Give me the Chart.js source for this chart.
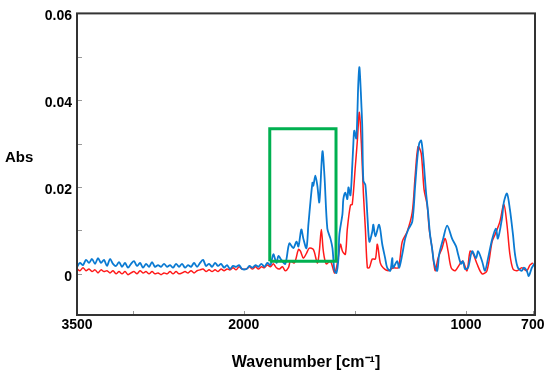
<!DOCTYPE html>
<html>
<head>
<meta charset="utf-8">
<title>FTIR spectra</title>
<script src="https://cdn.jsdelivr.net/npm/chart.js@4.4.1/dist/chart.umd.min.js"></script>
<style>
    html, body { margin: 0; padding: 0; background: #ffffff; }
    #spectrum { display: block; }
</style>
</head>
<body>
<canvas id="spectrum" width="550" height="375"></canvas>
<script>
/**
 * FTIR absorbance spectra - two samples, split wavenumber axis
 */

// Axis ticks (blank label = tick mark only)
const xTickValues = [3500, 3000, 2000, 1500, 1000, 700];
const xTickLabels = ['3500', '', '2000', '', '1000', '700'];
const yTickValues = [0, 0.01, 0.02, 0.03, 0.04, 0.05, 0.06];
const yTickLabels = ['0', '', '0.02', '', '0.04', '', '0.06'];

// Red trace
const redWavenumber = [
    3500, 3473, 3446, 3419, 3392, 3365, 3338, 3311, 3284, 3257,
    3230, 3203, 3176, 3149, 3122, 3095, 3068, 3041, 3014, 2987,
    2960, 2933, 2906, 2879, 2852, 2825, 2798, 2771, 2744, 2717,
    2690, 2663, 2636, 2609, 2582, 2555, 2528, 2501, 2474, 2447,
    2420, 2393, 2366, 2339, 2312, 2285, 2258, 2231, 2204, 2177,
    2150, 2123, 2096, 2069, 2042, 2015,
    1988, 1974, 1961, 1947, 1934, 1921, 1907, 1894, 1880, 1867,
    1853, 1840, 1826, 1813, 1799, 1790, 1772, 1754, 1745, 1732,
    1718, 1705, 1687, 1669, 1660, 1651, 1642, 1629, 1610, 1592,
    1583, 1574, 1565, 1556, 1543, 1534, 1520, 1512, 1498, 1489,
    1480, 1471, 1462, 1453, 1444, 1435, 1422, 1408, 1399, 1386,
    1373, 1350, 1328, 1305, 1287, 1265, 1242, 1229, 1216, 1202,
    1189, 1175, 1166, 1153, 1139, 1126, 1108, 1094, 1081, 1067,
    1049, 1027, 1014, 996, 982, 969, 951, 928, 906, 883,
    870, 848, 830, 816, 803, 789, 771, 749, 727, 713,
    700
];
const redAbs = [
    0.0011, 0.0007, 0.0014, 0.0007, 0.0011, 0.0005, 0.0009, 0.0002, 0.0009, 0.0005,
    0.0007, 0.0002, 0.0007, 0.0000, 0.0005, 0.0000, 0.0005, -0.0002, 0.0002, 0.0005,
    0.0000, 0.0007, 0.0002, 0.0005, 0.0000, 0.0005, 0.0000, 0.0002, -0.0002, 0.0002,
    0.0000, 0.0005, 0.0000, 0.0005, 0.0000, 0.0002, 0.0005, 0.0002, 0.0007, 0.0002,
    0.0007, 0.0009, 0.0011, 0.0005, 0.0009, 0.0005, 0.0009, 0.0005, 0.0011, 0.0007,
    0.0011, 0.0009, 0.0014, 0.0009, 0.0016, 0.0011,
    0.0011, 0.0016, 0.0011, 0.0016, 0.0011, 0.0016, 0.0014, 0.0020, 0.0016, 0.0023,
    0.0014, 0.0011, 0.0016, 0.0007, 0.0014, 0.0029, 0.0025, 0.0056, 0.0052, 0.0036,
    0.0047, 0.0059, 0.0056, 0.0025, 0.0052, 0.0102, 0.0052, 0.0023, 0.0029, 0.0002,
    0.0014, 0.0041, 0.0068, 0.0052, 0.0045, 0.0104, 0.0158, 0.0160, 0.0248, 0.0307,
    0.0372, 0.0300, 0.0187, 0.0104, 0.0014, 0.0014, 0.0034, 0.0034, 0.0068, 0.0025,
    0.0014, 0.0007, 0.0014, 0.0014, 0.0074, 0.0097, 0.0142, 0.0226, 0.0293, 0.0278,
    0.0194, 0.0158, 0.0104, 0.0059, 0.0007, 0.0036, 0.0059, 0.0081, 0.0052, 0.0014,
    0.0007, 0.0023, 0.0029, 0.0007, 0.0052, 0.0047, 0.0023, 0.0000, 0.0007, 0.0074,
    0.0090, 0.0120, 0.0160, 0.0113, 0.0045, 0.0011, 0.0007, 0.0014, 0.0007, 0.0020,
    0.0025
];

// Blue trace
const blueWavenumber = [
    3500, 3473, 3446, 3419, 3392, 3365, 3338, 3311, 3284, 3257,
    3230, 3203, 3176, 3149, 3122, 3095, 3068, 3041, 3014, 2987,
    2960, 2933, 2906, 2879, 2852, 2825, 2798, 2771, 2744, 2717,
    2690, 2663, 2636, 2609, 2582, 2555, 2528, 2501, 2474, 2447,
    2420, 2393, 2366, 2339, 2312, 2285, 2258, 2231, 2204, 2177,
    2150, 2123, 2096, 2069, 2042, 2015,
    1988, 1974, 1961, 1947, 1934, 1921, 1907, 1894, 1880, 1867,
    1853, 1844, 1831, 1813, 1795, 1777, 1763, 1754, 1741, 1732,
    1718, 1709, 1691, 1687, 1678, 1669, 1660, 1646, 1637, 1624,
    1610, 1601, 1592, 1583, 1574, 1570, 1556, 1552, 1543, 1534,
    1529, 1520, 1512, 1507, 1503, 1494, 1489, 1485, 1480, 1476,
    1471, 1467, 1462, 1453, 1444, 1435, 1422, 1417, 1408, 1391,
    1377, 1364, 1355, 1341, 1332, 1328, 1310, 1301, 1287, 1274,
    1260, 1242, 1229, 1220, 1211, 1202, 1193, 1180, 1171, 1162,
    1153, 1144, 1130, 1121, 1103, 1085, 1063, 1045, 1036, 1023,
    1014, 1005, 991, 973, 955, 946, 928, 915, 901, 883,
    866, 857, 839, 830, 816, 803, 789, 780, 767, 749,
    740, 727, 718, 704, 691
];
const blueAbs = [
    0.0016, 0.0025, 0.0020, 0.0032, 0.0025, 0.0034, 0.0023, 0.0036, 0.0025, 0.0032,
    0.0018, 0.0034, 0.0023, 0.0018, 0.0027, 0.0016, 0.0025, 0.0014, 0.0023, 0.0029,
    0.0018, 0.0025, 0.0014, 0.0023, 0.0016, 0.0027, 0.0016, 0.0020, 0.0016, 0.0023,
    0.0016, 0.0020, 0.0014, 0.0023, 0.0016, 0.0023, 0.0014, 0.0020, 0.0016, 0.0025,
    0.0016, 0.0025, 0.0032, 0.0018, 0.0023, 0.0016, 0.0025, 0.0018, 0.0023, 0.0014,
    0.0020, 0.0011, 0.0018, 0.0016, 0.0020, 0.0011,
    0.0011, 0.0018, 0.0014, 0.0020, 0.0016, 0.0023, 0.0016, 0.0025, 0.0020, 0.0045,
    0.0025, 0.0041, 0.0032, 0.0023, 0.0070, 0.0059, 0.0074, 0.0063, 0.0102, 0.0081,
    0.0059, 0.0115, 0.0210, 0.0203, 0.0226, 0.0203, 0.0165, 0.0282, 0.0226, 0.0104,
    0.0081, 0.0059, 0.0007, 0.0002, 0.0036, 0.0090, 0.0138, 0.0172, 0.0187, 0.0172,
    0.0199, 0.0181, 0.0248, 0.0300, 0.0330, 0.0312, 0.0368, 0.0436, 0.0476, 0.0447,
    0.0391, 0.0339, 0.0214, 0.0205, 0.0135, 0.0074, 0.0097, 0.0113, 0.0086, 0.0113,
    0.0068, 0.0036, 0.0014, 0.0007, 0.0036, 0.0014, 0.0029, 0.0014, 0.0045, 0.0081,
    0.0102, 0.0120, 0.0203, 0.0262, 0.0300, 0.0307, 0.0271, 0.0187, 0.0142, 0.0090,
    0.0059, 0.0025, 0.0007, 0.0045, 0.0081, 0.0111, 0.0081, 0.0063, 0.0045, 0.0023,
    0.0029, 0.0011, 0.0014, 0.0052, 0.0036, 0.0052, 0.0029, 0.0007, 0.0036, 0.0079,
    0.0104, 0.0081, 0.0126, 0.0165, 0.0185, 0.0149, 0.0090, 0.0045, 0.0014, 0.0007,
    0.0014, 0.0007, -0.0005, 0.0014, 0.0025
];

// Highlighted band (green box): wavenumber edges, absorbance edges
const boxWavenumber = [1883, 1585];
const boxAbs = [0.0029, 0.0334];

// Spectrometer-style axis: below 2000 cm-1 the scale is expanded 2x
const BREAK_AT = 2000;
const EXPAND = 2;

const LinearScale = Chart.LinearScale || Chart.registry.getScale('linear');

class BrokenWavenumberScale extends LinearScale {
    // distance from the left edge in "axis units"
    _units(v) {
        const hi = this.max;
        if (v >= BREAK_AT) return hi - v;
        return (hi - BREAK_AT) + (BREAK_AT - v) * EXPAND;
    }
    getPixelForValue(value) {
        if (value === null || value === undefined) return NaN;
        return this.left + this.width * this._units(value) / this._units(this.min);
    }
    getValueForPixel(pixel) {
        const u = (pixel - this.left) / this.width * this._units(this.min);
        const upper = this.max - BREAK_AT;
        return u <= upper ? this.max - u : BREAK_AT - (u - upper) / EXPAND;
    }
}
BrokenWavenumberScale.id = 'brokenWavenumber';
BrokenWavenumberScale.defaults = LinearScale.defaults;
Chart.register(BrokenWavenumberScale);

function toPoints(xs, ys) {
    return xs.map((x, i) => ({ x: x, y: ys[i] }));
}

function boxPoints() {
    const [x0, x1] = boxWavenumber;
    const [y0, y1] = boxAbs;
    return [
        { x: x0, y: y0 }, { x: x0, y: y1 }, { x: x1, y: y1 },
        { x: x1, y: y0 }, { x: x0, y: y0 }
    ];
}

const FONT = "'Liberation Sans', Arial, sans-serif";

// Frame, inward tick marks and the horizontal "Abs" label
const frameAndTicks = {
    id: 'frameAndTicks',
    afterDraw(chart) {
        const { ctx, chartArea, scales } = chart;
        const { left, right, top, bottom } = chartArea;
        ctx.save();

        ctx.strokeStyle = '#9a9a9a';
        ctx.lineWidth = 1;
        xTickValues.forEach(v => {
            const px = Math.round(scales.x.getPixelForValue(v)) + 0.5;
            ctx.beginPath();
            ctx.moveTo(px, bottom);
            ctx.lineTo(px, bottom - 4);
            ctx.stroke();
        });
        yTickValues.forEach(v => {
            const py = Math.round(scales.y.getPixelForValue(v)) + 0.5;
            ctx.beginPath();
            ctx.moveTo(left, py);
            ctx.lineTo(left + 5, py);
            ctx.stroke();
        });

        ctx.strokeStyle = '#333333';
        ctx.lineWidth = 2;
        ctx.strokeRect(left, top, right - left, bottom - top);

        ctx.fillStyle = '#000000';
        ctx.font = 'bold 15px ' + FONT;
        ctx.textAlign = 'left';
        ctx.textBaseline = 'middle';
        ctx.fillText('Abs', 5, 158);
        ctx.restore();
    }
};

function initSpectrumChart(canvasId) {
    const ctx = document.getElementById(canvasId)?.getContext('2d');
    if (!ctx) return;

    new Chart(ctx, {
        type: 'line',
        data: {
            datasets: [
                {
                    label: 'Region',
                    data: boxPoints(),
                    borderColor: '#00b050',
                    borderWidth: 3,
                    pointRadius: 0,
                    tension: 0,
                    fill: false
                },
                {
                    label: 'Sample B',
                    data: toPoints(blueWavenumber, blueAbs),
                    borderColor: '#0a7ad2',
                    borderWidth: 1.8,
                    pointRadius: 0,
                    tension: 0.3,
                    fill: false
                },
                {
                    label: 'Sample A',
                    data: toPoints(redWavenumber, redAbs),
                    borderColor: '#ff1a1a',
                    borderWidth: 1.5,
                    pointRadius: 0,
                    tension: 0.3,
                    fill: false
                }
            ]
        },
        options: {
            responsive: false,
            animation: false,
            devicePixelRatio: 1,
            layout: { padding: { top: 7, right: 15, bottom: 0, left: 0 } },
            plugins: {
                legend: { display: false },
                tooltip: { enabled: false }
            },
            scales: {
                x: {
                    type: 'brokenWavenumber',
                    min: 690,
                    max: 3500,
                    grid: { display: false, drawTicks: false },
                    border: { display: false },
                    afterBuildTicks: axis => {
                        axis.ticks = xTickValues.map(v => ({ value: v }));
                    },
                    afterFit: axis => { axis.height = 60; },
                    ticks: {
                        autoSkip: false,
                        maxRotation: 0,
                        padding: 2,
                        color: '#000000',
                        font: { family: FONT, size: 14, weight: 'bold' },
                        callback: value => xTickLabels[xTickValues.indexOf(value)]
                    },
                    title: {
                        display: true,
                        text: 'Wavenumber [cm\u207B\u00B9]',
                        color: '#000000',
                        padding: { top: 0, bottom: 3 },
                        font: { family: FONT, size: 16, weight: 'bold' }
                    }
                },
                y: {
                    type: 'linear',
                    min: -0.0095,
                    max: 0.06,
                    grid: { display: false, drawTicks: false },
                    border: { display: false },
                    afterBuildTicks: axis => {
                        axis.ticks = yTickValues.map(v => ({ value: v }));
                    },
                    afterFit: axis => { axis.width = 77; },
                    ticks: {
                        padding: 5,
                        labelOffset: 3,
                        color: '#000000',
                        font: { family: FONT, size: 14, weight: 'bold' },
                        callback: (value, index) => yTickLabels[index]
                    }
                }
            }
        },
        plugins: [frameAndTicks]
    });
}

document.addEventListener('DOMContentLoaded', () => {
    initSpectrumChart('spectrum');
});
</script>
</body>
</html>
